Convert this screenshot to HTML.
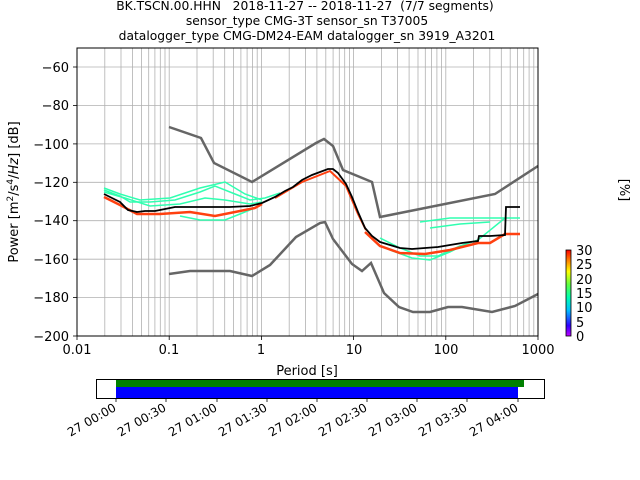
<!DOCTYPE html>
<html><head><style>body{margin:0;background:#fff}svg{display:block;font-family:"DejaVu Sans","Liberation Sans",sans-serif}</style></head>
<body>
<svg width="640" height="480" viewBox="0 0 640 480">
<defs>
<g id="mn" stroke="#b0b0b0" stroke-width="0.8">
<line x1="27.8" y1="48" x2="27.8" y2="336"/><line x1="44" y1="48" x2="44" y2="336"/><line x1="55.5" y1="48" x2="55.5" y2="336"/><line x1="64.4" y1="48" x2="64.4" y2="336"/><line x1="71.7" y1="48" x2="71.7" y2="336"/><line x1="77.9" y1="48" x2="77.9" y2="336"/><line x1="83.3" y1="48" x2="83.3" y2="336"/><line x1="88" y1="48" x2="88" y2="336"/>
</g>
<linearGradient id="cb" x1="0" y1="1" x2="0" y2="0">
<stop offset="0" stop-color="#c000ff"/><stop offset="0.12" stop-color="#3000ff"/><stop offset="0.3" stop-color="#00c0ff"/><stop offset="0.45" stop-color="#00ffb0"/><stop offset="0.6" stop-color="#60ff40"/><stop offset="0.75" stop-color="#ffff00"/><stop offset="0.88" stop-color="#ff8000"/><stop offset="1" stop-color="#ff0000"/>
</linearGradient>
</defs>
<g font-size="12.3" text-anchor="middle" fill="#000">
<text x="305" y="10" xml:space="preserve" style="white-space:pre">BK.TSCN.00.HHN   2018-11-27 -- 2018-11-27  (7/7 segments)</text>
<text x="307" y="25">sensor_type CMG-3T sensor_sn T37005</text>
<text x="307" y="40">datalogger_type CMG-DM24-EAM datalogger_sn 3919_A3201</text>
</g>
<use href="#mn" x="77"/><use href="#mn" x="169.2"/><use href="#mn" x="261.4"/><use href="#mn" x="353.6"/><use href="#mn" x="445.8"/>
<g stroke="#b0b0b0" stroke-width="0.8">
<line x1="169.2" y1="48" x2="169.2" y2="336"/><line x1="261.4" y1="48" x2="261.4" y2="336"/><line x1="353.6" y1="48" x2="353.6" y2="336"/><line x1="445.8" y1="48" x2="445.8" y2="336"/>
<line x1="77" y1="67" x2="538" y2="67"/><line x1="77" y1="105.4" x2="538" y2="105.4"/><line x1="77" y1="143.9" x2="538" y2="143.9"/><line x1="77" y1="182.3" x2="538" y2="182.3"/><line x1="77" y1="220.7" x2="538" y2="220.7"/><line x1="77" y1="259.2" x2="538" y2="259.2"/><line x1="77" y1="297.6" x2="538" y2="297.6"/>
</g>
<g fill="none" stroke-width="1.5">
<path stroke="#30ffb0" d="M104 190 L120 196 L130 202 L150 202 L175 200 L200 192 L215 186 L235 194 L250 200 L265 198 L280 193"/>
<path stroke="#30ffb0" d="M104 192 L125 198 L150 206 L180 204 L205 198 L225 200 L250 204 L262 202"/>
<path stroke="#30ffb0" d="M104 188 L120 194 L140 200 L170 198 L200 188 L225 182 L245 194 L262 200"/>
<path stroke="#30ffb0" d="M180 216 L200 220 L225 220 L240 214 L255 208"/>
<path stroke="#30ffb0" d="M380 238 L400 248 L420 256 L438 256 L460 246 L478 240 L505 218 L520 218"/>
<path stroke="#30ffb0" d="M390 250 L412 258 L430 260 L450 252 L470 242"/>
<path stroke="#30ffb0" d="M420 222 L450 218 L478 218 L505 218"/>
<path stroke="#30ffb0" d="M430 228 L460 224 L490 222"/>
</g>
<g fill="none" stroke-width="2.5">
<path stroke="#ff4010" d="M104 197 L120 205 L137 214 L160 214 L190 212 L215 216 L235 212 L255 208 L262 204"/>
<path stroke="#ff4010" d="M365 232 L380 246 L400 253 L425 254 L450 250 L478 243 L490 243 L505 234 L520 234"/>
<path stroke="#ff4010" stroke-width="2" d="M275 198 L302 182 L330 171 L346 186 L358 214 L366 230"/>
</g>
<path fill="none" stroke="#000" stroke-width="1.8" d="M104 194 L112 198 L120 202 L128 210 L137 212 L145 211 L155 211 L165 209 L175 207 L190 207 L210 207 L230 207 L250 206 L262 203 L275 197 L285 191 L293 187 L302 180 L312 175 L320 172 L328 169 L333 169 L338 173 L346 184 L352 197 L358 212 L365 228 L372 236 L380 242 L390 245 L400 248 L412 249 L425 248 L438 247 L450 245 L462 243 L470 242 L478 241 L479 236 L490 236 L505 235 L506 207 L520 207"/>
<g fill="none" stroke="#666" stroke-width="2.5">
<path d="M169 127 L201 138 L214 163 L252 182 L316 143 L324 139 L333 146 L343 170 L372 182 L380 217 L495 194 L538 166"/>
<path d="M169 274 L190 271 L230 271 L252 276 L270 265 L296 237 L320 223 L325 222 L333 239 L352 264 L362 271 L371 263 L384 293 L399 307 L413 312 L430 312 L448 307 L462 307 L492 312 L515 306 L538 294"/>
</g>
<rect x="77" y="48" width="461" height="288" fill="none" stroke="#000" stroke-width="1"/>
<g stroke="#000" stroke-width="0.8">
<line x1="77" y1="336" x2="77" y2="340"/><line x1="169.2" y1="336" x2="169.2" y2="340"/><line x1="261.4" y1="336" x2="261.4" y2="340"/><line x1="353.6" y1="336" x2="353.6" y2="340"/><line x1="445.8" y1="336" x2="445.8" y2="340"/><line x1="538" y1="336" x2="538" y2="340"/>
<line x1="73" y1="67" x2="77" y2="67"/><line x1="73" y1="105.4" x2="77" y2="105.4"/><line x1="73" y1="143.9" x2="77" y2="143.9"/><line x1="73" y1="182.3" x2="77" y2="182.3"/><line x1="73" y1="220.7" x2="77" y2="220.7"/><line x1="73" y1="259.2" x2="77" y2="259.2"/><line x1="73" y1="297.6" x2="77" y2="297.6"/><line x1="73" y1="336" x2="77" y2="336"/>
</g>
<g font-size="13" text-anchor="middle">
<text x="77" y="354">0.01</text><text x="169" y="354">0.1</text><text x="261" y="354">1</text><text x="354" y="354">10</text><text x="446" y="354">100</text><text x="538" y="354">1000</text>
<text x="307" y="375">Period [s]</text>
</g>
<g font-size="13" text-anchor="end">
<text x="69" y="72">−60</text><text x="69" y="110">−80</text><text x="69" y="149">−100</text><text x="69" y="187">−120</text><text x="69" y="225">−140</text><text x="69" y="264">−160</text><text x="69" y="302">−180</text><text x="69" y="341">−200</text>
</g>
<text font-size="13" text-anchor="middle" transform="translate(18,192) rotate(-90)">Power [m<tspan font-size="9" dy="-5">2</tspan><tspan dy="5">/s</tspan><tspan font-size="9" dy="-5">4</tspan><tspan dy="5">/</tspan><tspan font-style="italic">Hz</tspan>] [dB]</text>
<rect x="566" y="250" width="5" height="86" fill="url(#cb)" stroke="#000" stroke-width="0.8"/>
<g font-size="13">
<text x="576" y="341">0</text><text x="576" y="327">5</text><text x="576" y="312">10</text><text x="576" y="298">15</text><text x="576" y="284">20</text><text x="576" y="269">25</text><text x="576" y="255">30</text>
<text x="620" y="190" text-anchor="middle" transform="rotate(90,620,190)">[%]</text>
</g>
<rect x="116" y="379" width="408" height="8" fill="#008000"/>
<rect x="116" y="387" width="402" height="11" fill="#0000ff"/>
<rect x="96.5" y="379.5" width="448" height="19" fill="none" stroke="#000" stroke-width="1"/>
<g stroke="#000" stroke-width="0.8">
<line x1="116" y1="398" x2="116" y2="402"/><line x1="166" y1="398" x2="166" y2="402"/><line x1="217" y1="398" x2="217" y2="402"/><line x1="267" y1="398" x2="267" y2="402"/><line x1="317" y1="398" x2="317" y2="402"/><line x1="367" y1="398" x2="367" y2="402"/><line x1="417" y1="398" x2="417" y2="402"/><line x1="467" y1="398" x2="467" y2="402"/><line x1="518" y1="398" x2="518" y2="402"/>
</g>
<g font-size="12" text-anchor="end">
<text transform="translate(117,410) rotate(-30)">27 00:00</text>
<text transform="translate(167,410) rotate(-30)">27 00:30</text>
<text transform="translate(218,410) rotate(-30)">27 01:00</text>
<text transform="translate(268,410) rotate(-30)">27 01:30</text>
<text transform="translate(318,410) rotate(-30)">27 02:00</text>
<text transform="translate(368,410) rotate(-30)">27 02:30</text>
<text transform="translate(418,410) rotate(-30)">27 03:00</text>
<text transform="translate(468,410) rotate(-30)">27 03:30</text>
<text transform="translate(519,410) rotate(-30)">27 04:00</text>
</g>
</svg>
</body></html>
